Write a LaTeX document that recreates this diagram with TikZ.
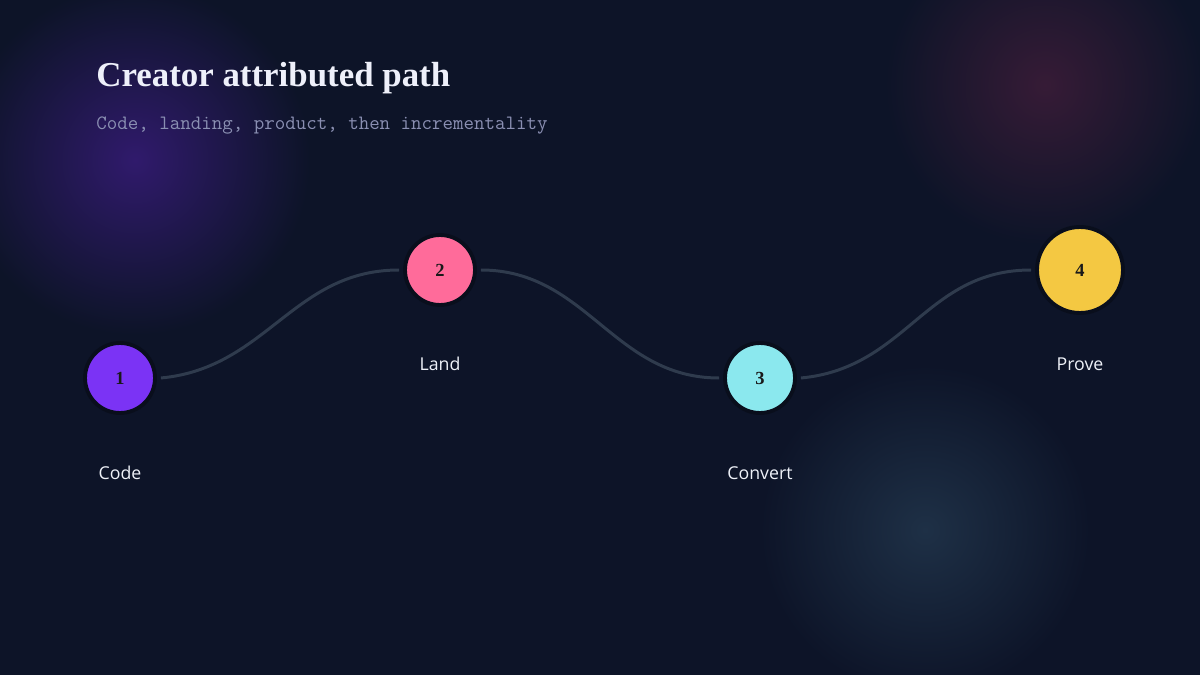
\documentclass[tikz,border=0pt]{standalone}
\usepackage{fontspec}
\setmainfont{Liberation Serif}
\newfontfamily\labelfont{Open Sans}
\usetikzlibrary{calc}
\definecolor{bgc}{HTML}{0D1428}
\definecolor{glowpurple}{HTML}{301A6C}
\definecolor{glowpink}{HTML}{361B36}
\definecolor{glowblue}{HTML}{1E3046}
\definecolor{linec}{HTML}{2F3B4D}
\definecolor{cpurple}{HTML}{7B33F5}
\definecolor{cpink}{HTML}{FF6B9A}
\definecolor{ccyan}{HTML}{8BE8EE}
\definecolor{cyellow}{HTML}{F4C842}
\definecolor{titlec}{HTML}{EEF0FA}
\definecolor{subc}{HTML}{8A8FB2}
\definecolor{labc}{HTML}{EEF1F8}
\tikzset{
  stepdot/.style={circle, draw=bgc!70!black, line width=2.2pt, inner sep=0pt,
    minimum size=1.4cm, font=\bfseries\fontsize{10.5pt}{12pt}\selectfont, text=black!90},
  steplabel/.style={font=\labelfont\fontsize{10.1pt}{12pt}\selectfont, text=labc, anchor=base},
  pathline/.style={draw=linec, line width=1.7pt}
}
\begin{document}
\begin{tikzpicture}[x=0.02cm, y=-0.02cm]
  \fill[bgc] (0,0) rectangle (1200,675);
  \useasboundingbox (0,0) rectangle (1200,675);
  % glows
  \shade[inner color=glowpurple, outer color=bgc] (135,160) circle (175);
  \shade[inner color=glowpink, outer color=bgc] (1045,85) circle (160);
  \shade[inner color=glowblue, outer color=bgc] (925,530) circle (165);
  % title
  \node[anchor=base west, inner sep=0pt, text=titlec,
        font=\bfseries\fontsize{19.85pt}{24pt}\selectfont] (title) at (96,87) {Creator attributed path};
  \node[anchor=base west, inner sep=0pt, text=subc,
        font=\ttfamily\fontsize{11.6pt}{13pt}\selectfont] (sub) at (96,130) {Code, landing, product, then incrementality};
  % nodes
  \node[stepdot, fill=cpurple] (n1) at (120,378) {1};
  \node[stepdot, fill=cpink] (n2) at (440,270) {2};
  \node[stepdot, fill=ccyan] (n3) at (760,378) {3};
  \node[stepdot, fill=cyellow, minimum size=1.72cm] (n4) at (1080,270) {4};
  % connectors
  \draw[pathline] ($(n1.east)+(4,0)$) .. controls ($(n1.east)+(110,-10)$) and ($(n2.west)+(-110,0)$) .. ($(n2.west)+(-4,0)$);
  \draw[pathline] ($(n2.east)+(4,0)$) .. controls ($(n2.east)+(110,0)$) and ($(n3.west)+(-110,0)$) .. ($(n3.west)+(-4,0)$);
  \draw[pathline] ($(n3.east)+(4,0)$) .. controls ($(n3.east)+(110,-10)$) and ($(n4.west)+(-110,0)$) .. ($(n4.west)+(-4,0)$);
  % labels
  \node[steplabel] (l1) at (120,479) {Code};
  \node[steplabel] (l2) at (440,371) {Land};
  \node[steplabel] (l3) at (760,479) {Convert};
  \node[steplabel] (l4) at (1080,371) {Prove};
\end{tikzpicture}
\end{document}
